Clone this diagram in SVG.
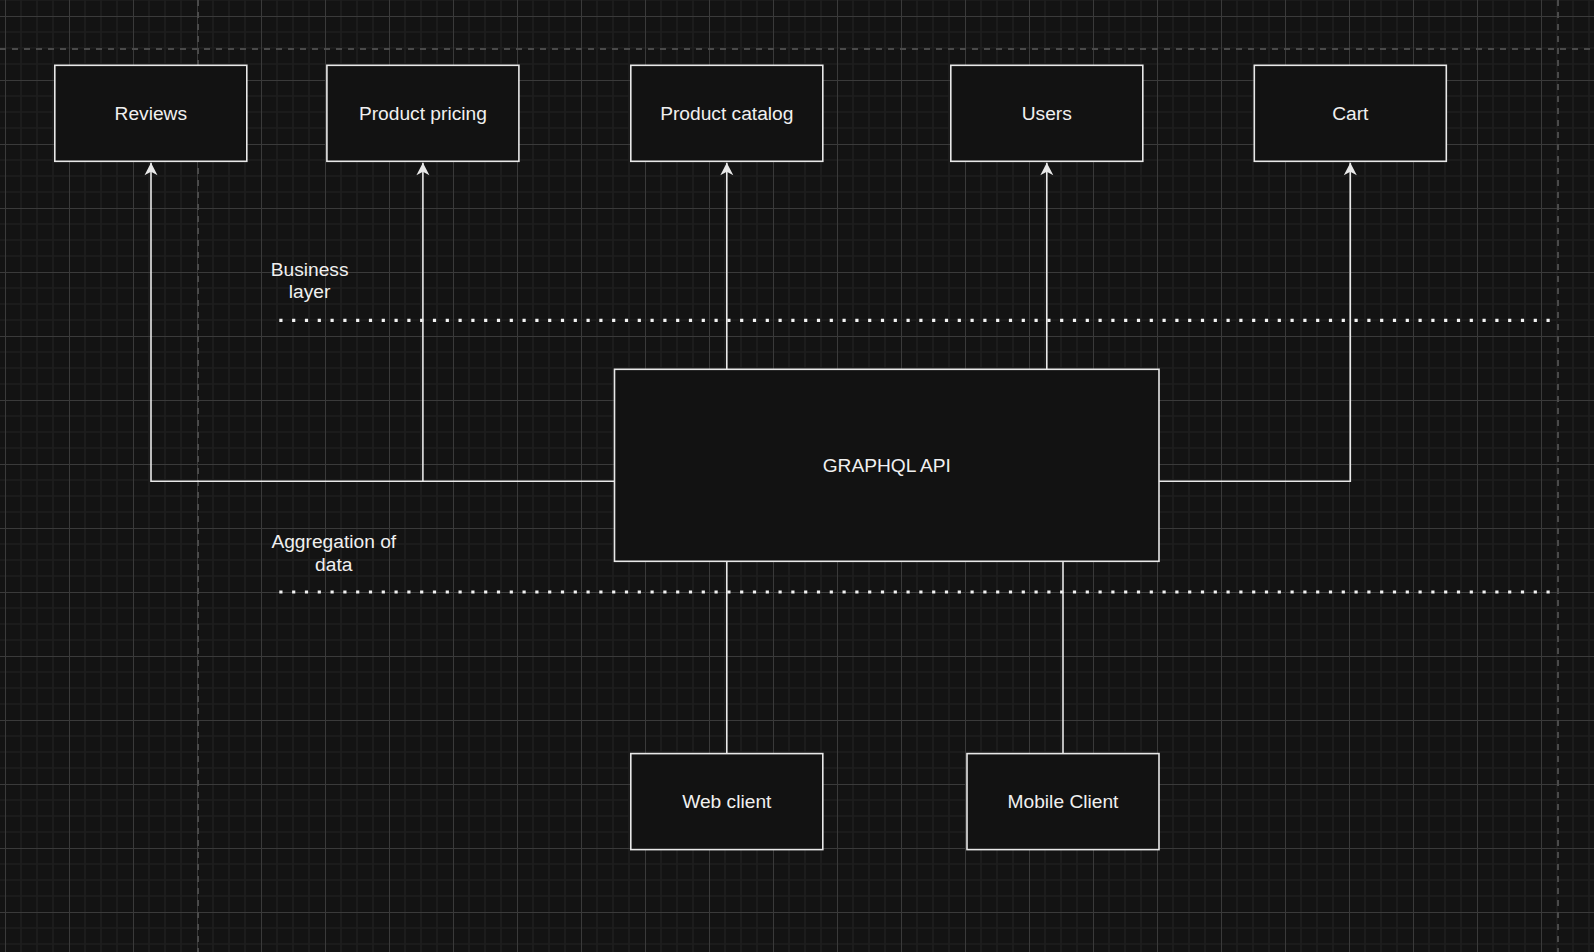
<svg xmlns="http://www.w3.org/2000/svg" width="1594" height="952" viewBox="0 0 1594 952">
  <style>
    .box { fill: #121212; stroke: #e8e8e8; stroke-width: 1.6; }
    .lbl { font-family: "Liberation Sans", Arial, sans-serif; font-size: 19.2px; fill: #f0f0f0; text-anchor: middle; dominant-baseline: central; }
    .note { font-family: "Liberation Sans", Arial, sans-serif; font-size: 19.2px; fill: #f0f0f0; text-anchor: middle; }
    .conn { fill: none; stroke: #e8e8e8; stroke-width: 1.6; }
    .dots { fill: none; stroke: #f2f2f2; stroke-width: 3.2; stroke-dasharray: 3.2 9.6; }
    .guide { fill: none; stroke: #4a4a4a; stroke-width: 2; stroke-dasharray: 6 6; }
  </style>
  <defs>
    <pattern id="grid" x="5" y="16" width="64" height="64" patternUnits="userSpaceOnUse">
      <path d="M16 0V64M32 0V64M48 0V64M0 16H64M0 32H64M0 48H64" stroke="#1d1d1d" stroke-width="1.6" fill="none"/>
      <path d="M0.5 0V64M0 0.5H64" stroke="#3a3a3a" stroke-width="1" fill="none"/>
    </pattern>
    <marker id="arrow" viewBox="0 0 14 14" refX="13" refY="7" markerWidth="14" markerHeight="14" markerUnits="userSpaceOnUse" orient="auto">
      <path d="M13 7 L0.5 0.5 L4 7 L0.5 13.5 Z" fill="#e8e8e8"/>
    </marker>
  </defs>

  <rect x="0" y="0" width="1594" height="952" fill="#131313"/>
  <rect x="0" y="0" width="1594" height="952" fill="url(#grid)"/>

  <g id="guides">
    <line class="guide" x1="0" y1="49" x2="1594" y2="49"/>
    <line class="guide" x1="198" y1="0" x2="198" y2="952"/>
    <line class="guide" x1="1558" y1="0" x2="1558" y2="952"/>
  </g>

  <g id="layer-lines">
    <line class="dots" x1="279.3" y1="320.3" x2="1550" y2="320.3"/>
    <line class="dots" x1="279.3" y1="592" x2="1550" y2="592"/>
  </g>

  <g id="layer-labels">
    <text class="note" x="309.6" y="276">Business</text>
    <text class="note" x="309.6" y="298.4">layer</text>
    <text class="note" x="333.8" y="548.3">Aggregation of</text>
    <text class="note" x="333.8" y="570.7">data</text>
  </g>

  <g id="connectors">
    <path class="conn" d="M614.5 481.3 H151 V162.7" marker-end="url(#arrow)"/>
    <path class="conn" d="M422.9 481.3 V162.7" marker-end="url(#arrow)"/>
    <path class="conn" d="M726.8 369.3 V162.7" marker-end="url(#arrow)"/>
    <path class="conn" d="M1046.8 369.3 V162.7" marker-end="url(#arrow)"/>
    <path class="conn" d="M1159 481.3 H1350.3 V162.7" marker-end="url(#arrow)"/>
    <path class="conn" d="M726.8 561.3 V753.6"/>
    <path class="conn" d="M1063 561.3 V753.6"/>
  </g>

  <g id="reviews">
    <rect class="box" x="54.8" y="65.3" width="192" height="96"/>
    <text class="lbl" x="150.8" y="113.3">Reviews</text>
  </g>
  <g id="product-pricing">
    <rect class="box" x="326.9" y="65.3" width="192" height="96"/>
    <text class="lbl" x="422.9" y="113.3">Product pricing</text>
  </g>
  <g id="product-catalog">
    <rect class="box" x="630.8" y="65.3" width="192" height="96"/>
    <text class="lbl" x="726.8" y="113.3">Product catalog</text>
  </g>
  <g id="users">
    <rect class="box" x="950.8" y="65.3" width="192" height="96"/>
    <text class="lbl" x="1046.8" y="113.3">Users</text>
  </g>
  <g id="cart">
    <rect class="box" x="1254.3" y="65.3" width="192" height="96"/>
    <text class="lbl" x="1350.3" y="113.3">Cart</text>
  </g>
  <g id="graphql-api">
    <rect class="box" x="614.5" y="369.3" width="544.5" height="192"/>
    <text class="lbl" x="886.8" y="465.3">GRAPHQL API</text>
  </g>
  <g id="web-client">
    <rect class="box" x="630.8" y="753.6" width="192" height="96"/>
    <text class="lbl" x="726.8" y="801.6">Web client</text>
  </g>
  <g id="mobile-client">
    <rect class="box" x="967" y="753.6" width="192" height="96"/>
    <text class="lbl" x="1063" y="801.6">Mobile Client</text>
  </g>
</svg>
